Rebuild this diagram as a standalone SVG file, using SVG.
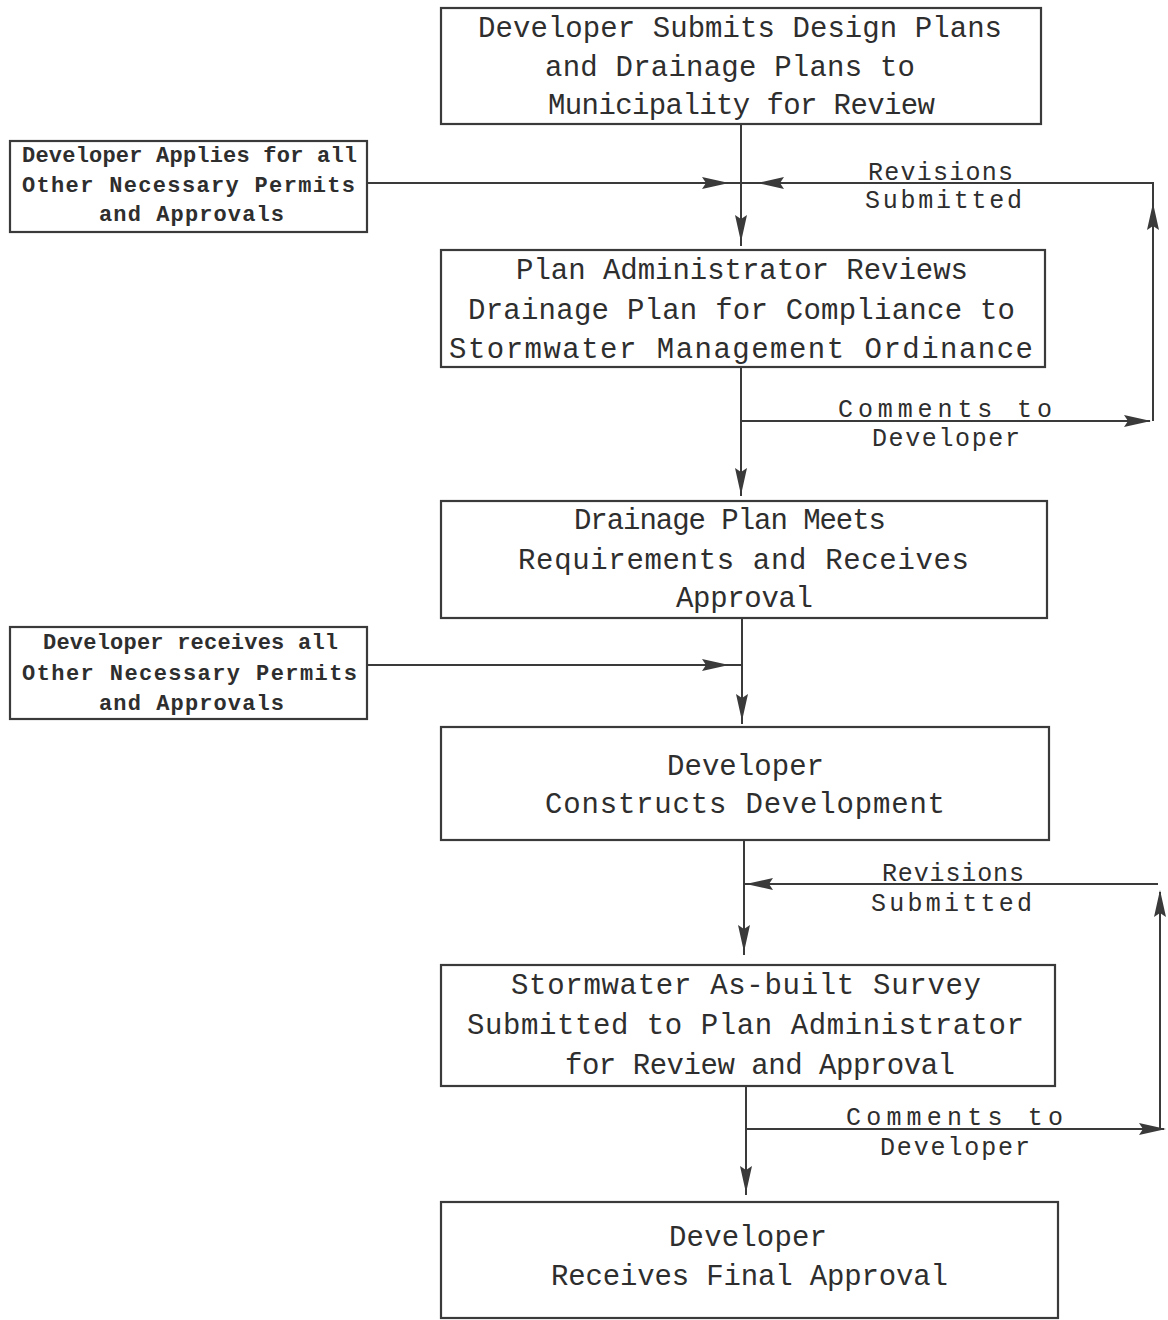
<svg xmlns="http://www.w3.org/2000/svg" xmlns:xlink="http://www.w3.org/1999/xlink" width="1168" height="1320" viewBox="0 0 1168 1320">
<style>
.box{fill:none;stroke:#3a3a3a;stroke-width:2.2}
.t{font-family:"Liberation Mono","DejaVu Sans Mono",monospace;font-size:29px;fill:#2e2e2e}
.s{font-family:"Liberation Mono","DejaVu Sans Mono",monospace;font-size:22px;font-weight:bold;fill:#2e2e2e}
.l{font-family:"Liberation Mono","DejaVu Sans Mono",monospace;font-size:25px;fill:#2e2e2e}
.c{fill:none;stroke:#3a3a3a;stroke-width:2}
.ah{fill:#3a3a3a}
</style>
<defs>
<path id="ah" d="M0,0 L-27,-6 L-23,0 L-27,6 Z"/>
</defs>
<rect width="1168" height="1320" fill="#ffffff"/>

<g id="n1">
<rect class="box" x="441" y="8" width="600" height="116"/>
<text class="t" x="478" y="37" textLength="524" lengthAdjust="spacing">Developer Submits Design Plans</text>
<text class="t" x="545" y="76" textLength="370" lengthAdjust="spacing">and Drainage Plans to</text>
<text class="t" x="548" y="114" textLength="387" lengthAdjust="spacing">Municipality for Review</text>
</g>

<g id="s1">
<rect class="box" x="10" y="141" width="357" height="91"/>
<text class="s" x="22" y="162" textLength="335" lengthAdjust="spacing">Developer Applies for all</text>
<text class="s" x="22" y="192" textLength="333" lengthAdjust="spacing">Other Necessary Permits</text>
<text class="s" x="99" y="221" textLength="185" lengthAdjust="spacing">and Approvals</text>
</g>

<g id="n2">
<rect class="box" x="441" y="250" width="604" height="117"/>
<text class="t" x="516" y="279" textLength="452" lengthAdjust="spacing">Plan Administrator Reviews</text>
<text class="t" x="468" y="319" textLength="547" lengthAdjust="spacing">Drainage Plan for Compliance to</text>
<text class="t" x="449" y="358" textLength="584" lengthAdjust="spacing">Stormwater Management Ordinance</text>
</g>

<g id="n3">
<rect class="box" x="441" y="501" width="606" height="117"/>
<text class="t" x="574" y="529" textLength="312" lengthAdjust="spacing">Drainage Plan Meets</text>
<text class="t" x="518" y="569" textLength="451" lengthAdjust="spacing">Requirements and Receives</text>
<text class="t" x="676" y="607" textLength="137" lengthAdjust="spacing">Approval</text>
</g>

<g id="s2">
<rect class="box" x="10" y="627" width="357" height="92"/>
<text class="s" x="43" y="649" textLength="295" lengthAdjust="spacing">Developer receives all</text>
<text class="s" x="22" y="680" textLength="335" lengthAdjust="spacing">Other Necessary Permits</text>
<text class="s" x="99" y="710" textLength="185" lengthAdjust="spacing">and Approvals</text>
</g>

<g id="n4">
<rect class="box" x="441" y="727" width="608" height="113"/>
<text class="t" x="667" y="775" textLength="157" lengthAdjust="spacing">Developer</text>
<text class="t" x="545" y="813" textLength="400" lengthAdjust="spacing">Constructs Development</text>
</g>

<g id="n5">
<rect class="box" x="441" y="965" width="614" height="121"/>
<text class="t" x="511" y="994" textLength="470" lengthAdjust="spacing">Stormwater As-built Survey</text>
<text class="t" x="467" y="1034" textLength="557" lengthAdjust="spacing">Submitted to Plan Administrator</text>
<text class="t" x="565" y="1074" textLength="390" lengthAdjust="spacing">for Review and Approval</text>
</g>

<g id="n6">
<rect class="box" x="441" y="1202" width="617" height="116"/>
<text class="t" x="669" y="1246" textLength="158" lengthAdjust="spacing">Developer</text>
<text class="t" x="551" y="1285" textLength="397" lengthAdjust="spacing">Receives Final Approval</text>
</g>

<g id="connectors">
<path class="c" d="M741,124 V246"/>
<use xlink:href="#ah" class="ah" transform="translate(741,242) rotate(90)"/>
<path class="c" d="M367,183 H741"/>
<use xlink:href="#ah" class="ah" transform="translate(729,183)"/>
<path class="c" d="M1153,421 V183 H741"/>
<use xlink:href="#ah" class="ah" transform="translate(757,183) rotate(180)"/>
<use xlink:href="#ah" class="ah" transform="translate(1153,203) rotate(-90)"/>
<path class="c" d="M741,367 V496"/>
<path class="c" d="M741,421 H1150"/>
<use xlink:href="#ah" class="ah" transform="translate(1151,421)"/>
<use xlink:href="#ah" class="ah" transform="translate(741,495) rotate(90)"/>
<path class="c" d="M742,618 V724"/>
<use xlink:href="#ah" class="ah" transform="translate(742,721) rotate(90)"/>
<path class="c" d="M367,665 H742"/>
<use xlink:href="#ah" class="ah" transform="translate(729,665)"/>
<path class="c" d="M744,840 V955"/>
<use xlink:href="#ah" class="ah" transform="translate(744,952) rotate(90)"/>
<path class="c" d="M1158,884 H744"/>
<use xlink:href="#ah" class="ah" transform="translate(746,884) rotate(180)"/>
<path class="c" d="M1160,1129 V892"/>
<use xlink:href="#ah" class="ah" transform="translate(1160,890) rotate(-90)"/>
<path class="c" d="M746,1086 V1195"/>
<path class="c" d="M746,1129 H1164"/>
<use xlink:href="#ah" class="ah" transform="translate(1166,1129)"/>
<use xlink:href="#ah" class="ah" transform="translate(746,1193) rotate(90)"/>
</g>

<g id="labels">
<text class="l" x="868" y="180" textLength="145" lengthAdjust="spacing">Revisions</text>
<text class="l" x="865" y="208" textLength="157" lengthAdjust="spacing">Submitted</text>
<text class="l" x="838" y="417" textLength="214" lengthAdjust="spacing">Comments to</text>
<text class="l" x="872" y="446" textLength="148" lengthAdjust="spacing">Developer</text>
<text class="l" x="882" y="881" textLength="142" lengthAdjust="spacing">Revisions</text>
<text class="l" x="871" y="911" textLength="161" lengthAdjust="spacing">Submitted</text>
<text class="l" x="846" y="1125" textLength="217" lengthAdjust="spacing">Comments to</text>
<text class="l" x="880" y="1155" textLength="150" lengthAdjust="spacing">Developer</text>
</g>
</svg>
